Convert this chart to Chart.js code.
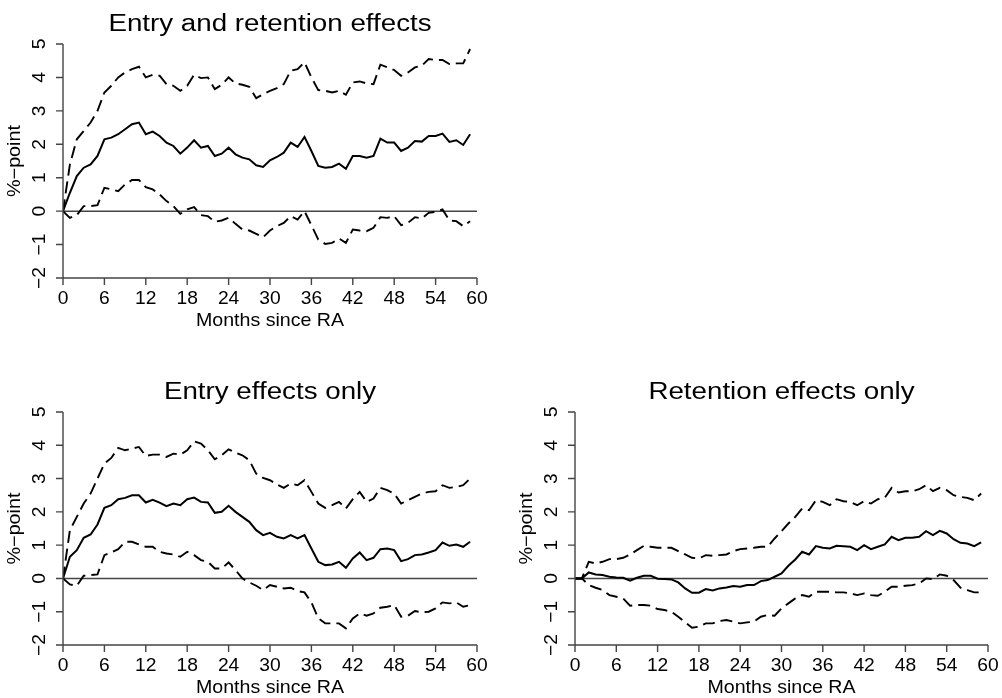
<!DOCTYPE html>
<html>
<head>
<meta charset="utf-8">
<script src="https://cdn.jsdelivr.net/npm/chart.js@4"></script>
<style>
  body { margin: 0; background: #fff; }
  canvas { position: absolute; }
</style>
</head>
<body>
<canvas id="c1" width="501" height="349" style="left:0;top:0"></canvas>
<canvas id="c2" width="501" height="349" style="left:0;top:349px"></canvas>
<canvas id="c3" width="501" height="349" style="left:501px;top:349px"></canvas>
<script>
// months since RA (x)
var months = [0,1,2,3,4,5,6,7,8,9,10,11,12,13,14,15,16,17,18,19,20,21,22,23,24,25,26,27,28,29,
  30,31,32,33,34,35,36,37,38,39,40,41,42,43,44,45,46,47,48,49,50,51,52,53,54,55,56,57,58,59];
var xTicks = [0,6,12,18,24,30,36,42,48,54,60];
var yTicks = [-2,-1,0,1,2,3,4,5];

// entry and retention effects
var bothEst = [0,0.55,1.05,1.3,1.4,1.65,2.15,2.2,2.3,2.45,2.6,2.65,2.3,2.38,2.25,2.05,1.95,1.72,1.9,2.12,
  1.9,1.95,1.65,1.72,1.9,1.7,1.6,1.55,1.37,1.32,1.52,1.62,1.75,2.05,1.92,2.22,1.8,1.35,1.3,1.32,
  1.42,1.27,1.65,1.65,1.6,1.65,2.17,2.05,2.05,1.8,1.9,2.1,2.08,2.25,2.25,2.32,2.07,2.12,1.98,2.3];
var bothHi = [0,1.4,2.15,2.4,2.65,3.0,3.55,3.75,4.0,4.15,4.25,4.32,4.0,4.08,4.05,3.8,3.75,3.6,3.75,4.08,
  3.98,4.0,3.65,3.78,4.0,3.82,3.78,3.72,3.38,3.5,3.6,3.68,3.8,4.2,4.25,4.45,4.0,3.62,3.6,3.55,
  3.6,3.48,3.85,3.88,3.82,3.8,4.38,4.3,4.22,4.05,4.15,4.3,4.35,4.55,4.52,4.52,4.4,4.42,4.42,4.85];
var bothLo = [0,-0.2,-0.12,0.15,0.15,0.18,0.7,0.65,0.6,0.8,0.93,0.93,0.72,0.65,0.5,0.3,0.15,-0.08,0.05,0.12,
  -0.12,-0.15,-0.32,-0.28,-0.2,-0.38,-0.55,-0.58,-0.68,-0.78,-0.58,-0.45,-0.35,-0.15,-0.25,0.0,-0.42,-0.85,-0.98,-0.95,
  -0.82,-0.95,-0.55,-0.58,-0.6,-0.5,-0.18,-0.2,-0.15,-0.42,-0.35,-0.18,-0.22,-0.05,-0.02,0.05,-0.28,-0.3,-0.45,-0.3];

// entry effects only
var entryEst = [0,0.65,0.85,1.22,1.32,1.62,2.12,2.2,2.38,2.42,2.5,2.5,2.28,2.36,2.28,2.17,2.25,2.2,2.38,2.43,
  2.3,2.28,1.97,2.0,2.18,2.0,1.85,1.7,1.45,1.3,1.37,1.25,1.2,1.3,1.2,1.3,0.9,0.5,0.4,0.42,
  0.5,0.32,0.6,0.78,0.55,0.62,0.88,0.9,0.85,0.52,0.58,0.7,0.72,0.78,0.85,1.08,0.98,1.02,0.95,1.1];
var entryHi = [0,1.45,1.85,2.25,2.55,3.0,3.45,3.62,3.92,3.85,3.9,3.95,3.68,3.72,3.72,3.65,3.75,3.72,3.85,4.12,
  4.05,3.85,3.58,3.7,3.88,3.78,3.7,3.55,3.15,3.02,2.95,2.82,2.72,2.85,2.8,2.95,2.6,2.25,2.12,2.2,
  2.3,2.1,2.38,2.6,2.3,2.4,2.72,2.65,2.55,2.25,2.35,2.45,2.55,2.6,2.62,2.8,2.72,2.75,2.8,3.0];
var entryLo = [0,-0.18,-0.22,0.08,0.1,0.12,0.7,0.78,0.88,1.1,1.1,1.02,0.95,0.95,0.8,0.75,0.72,0.65,0.8,0.7,
  0.55,0.5,0.3,0.3,0.48,0.25,0.0,-0.12,-0.22,-0.35,-0.2,-0.25,-0.3,-0.28,-0.38,-0.42,-0.72,-1.2,-1.35,-1.35,
  -1.35,-1.5,-1.2,-1.05,-1.12,-1.05,-0.88,-0.85,-0.8,-1.15,-1.12,-0.98,-1.02,-1.0,-0.9,-0.72,-0.75,-0.72,-0.85,-0.8];

// retention effects only
var retEst = [0,0,0.18,0.12,0.1,0.05,0.03,0.02,-0.07,0.02,0.08,0.08,-0.01,-0.02,-0.03,-0.12,-0.3,-0.43,-0.43,-0.32,
  -0.36,-0.3,-0.27,-0.23,-0.25,-0.2,-0.2,-0.08,-0.05,0.05,0.15,0.38,0.57,0.8,0.72,0.97,0.92,0.9,0.98,0.97,
  0.95,0.85,1.0,0.88,0.95,1.02,1.25,1.15,1.22,1.22,1.25,1.42,1.3,1.43,1.35,1.18,1.07,1.05,0.97,1.08];
var retHi = [0,0,0.5,0.45,0.5,0.58,0.58,0.62,0.72,0.85,0.98,0.95,0.92,0.92,0.92,0.82,0.72,0.62,0.6,0.7,
  0.68,0.7,0.72,0.82,0.88,0.9,0.92,0.95,0.95,1.2,1.42,1.65,1.85,2.1,2.05,2.35,2.3,2.2,2.38,2.32,
  2.3,2.2,2.32,2.25,2.38,2.42,2.72,2.58,2.62,2.62,2.68,2.8,2.62,2.72,2.65,2.5,2.45,2.42,2.35,2.55];
var retLo = [0,0,-0.2,-0.28,-0.35,-0.5,-0.55,-0.6,-0.82,-0.8,-0.8,-0.82,-0.92,-0.95,-1.0,-1.15,-1.32,-1.48,-1.45,-1.35,
  -1.35,-1.28,-1.25,-1.3,-1.35,-1.32,-1.3,-1.15,-1.1,-1.12,-0.9,-0.75,-0.6,-0.5,-0.55,-0.4,-0.4,-0.4,-0.42,-0.42,
  -0.45,-0.5,-0.45,-0.5,-0.52,-0.4,-0.25,-0.25,-0.22,-0.2,-0.15,0.0,-0.02,0.12,0.08,-0.05,-0.28,-0.35,-0.42,-0.42];

var FONT = '"Liberation Sans", Arial, sans-serif';

function pts(vals) {
  return vals.map(function (v, i) { return { x: months[i], y: v }; });
}

// text with a horizontal stretch along the writing direction
function txt(ctx, s, x, y, size, rot, sx, align) {
  ctx.save();
  ctx.translate(x, y);
  if (rot) ctx.rotate(rot);
  ctx.scale(sx, 1);
  ctx.font = size + 'px ' + FONT;
  ctx.textAlign = align || 'center';
  ctx.textBaseline = 'alphabetic';
  ctx.fillStyle = '#000';
  ctx.fillText(s, 0, 0);
  ctx.restore();
}

function fmt(v) { return v < 0 ? '\u2212' + Math.abs(v) : String(v); }

// R-style axes drawn from the chart scales
var rAxes = {
  id: 'rAxes',
  beforeDatasetsDraw: function (chart) {
    var ctx = chart.ctx, xs = chart.scales.x, ys = chart.scales.y;
    var y0 = ys.getPixelForValue(0);
    ctx.save();
    ctx.strokeStyle = '#444';
    ctx.lineWidth = 1.5;
    ctx.beginPath();
    ctx.moveTo(xs.getPixelForValue(0), y0);
    ctx.lineTo(xs.getPixelForValue(60), y0);
    ctx.stroke();
    ctx.restore();
  },
  afterDraw: function (chart) {
    var ctx = chart.ctx, xs = chart.scales.x, ys = chart.scales.y;
    var ax = xs.getPixelForValue(0), bx = xs.getPixelForValue(60);
    var ay = ys.getPixelForValue(-2), by = ys.getPixelForValue(5);
    ctx.save();
    ctx.strokeStyle = '#444';
    ctx.lineWidth = 1.4;
    ctx.beginPath();
    ctx.moveTo(ax, by); ctx.lineTo(ax, ay);
    ctx.moveTo(ax, ay); ctx.lineTo(bx, ay);
    yTicks.forEach(function (t) {
      var p = ys.getPixelForValue(t);
      ctx.moveTo(ax - 7, p); ctx.lineTo(ax, p);
    });
    xTicks.forEach(function (t) {
      var p = xs.getPixelForValue(t);
      ctx.moveTo(p, ay); ctx.lineTo(p, ay + 7);
    });
    ctx.stroke();
    ctx.restore();

    yTicks.forEach(function (t) {
      txt(ctx, fmt(t), ax - 18, ys.getPixelForValue(t), 18.5, -Math.PI / 2, 1.04);
    });
    xTicks.forEach(function (t) {
      txt(ctx, fmt(t), xs.getPixelForValue(t), ay + 26, 18.5, 0, 1.04);
    });
    txt(ctx, 'Months since RA', (ax + bx) / 2, ay + 47.5, 18.5, 0, 1.06);
    txt(ctx, '%\u2212point', ax - 43, (ay + by) / 2, 17.5, -Math.PI / 2, 1.13);
    txt(ctx, chart.options.plugins.rAxes.title, (ax + bx) / 2, by - 13, 23.5, 0, 1.18);
  }
};

function makePanel(id, title, est, hi, lo, pad) {
  var dash = { borderColor: '#000', borderWidth: 1.9, borderDash: [12, 6], pointRadius: 0, tension: 0, fill: false };
  new Chart(document.getElementById(id), {
    type: 'line',
    data: {
      datasets: [
        Object.assign({ label: 'upper', data: pts(hi) }, dash),
        Object.assign({ label: 'lower', data: pts(lo) }, dash),
        { label: 'estimate', data: pts(est), borderColor: '#000', borderWidth: 2, pointRadius: 0, tension: 0, fill: false }
      ]
    },
    options: {
      responsive: false,
      animation: false,
      devicePixelRatio: 1,
      layout: { padding: pad },
      plugins: { legend: { display: false }, tooltip: { enabled: false }, rAxes: { title: title } },
      scales: {
        x: { type: 'linear', min: 0, max: 60, display: false },
        y: { type: 'linear', min: -2, max: 5, display: false }
      }
    },
    plugins: [rAxes]
  });
}

makePanel('c1', 'Entry and retention effects', bothEst, bothHi, bothLo, { left: 63, top: 44, right: 24, bottom: 71 });
makePanel('c2', 'Entry effects only', entryEst, entryHi, entryLo, { left: 63, top: 63, right: 24, bottom: 53 });
makePanel('c3', 'Retention effects only', retEst, retHi, retLo, { left: 74, top: 63, right: 14, bottom: 53 });
</script>
</body>
</html>
